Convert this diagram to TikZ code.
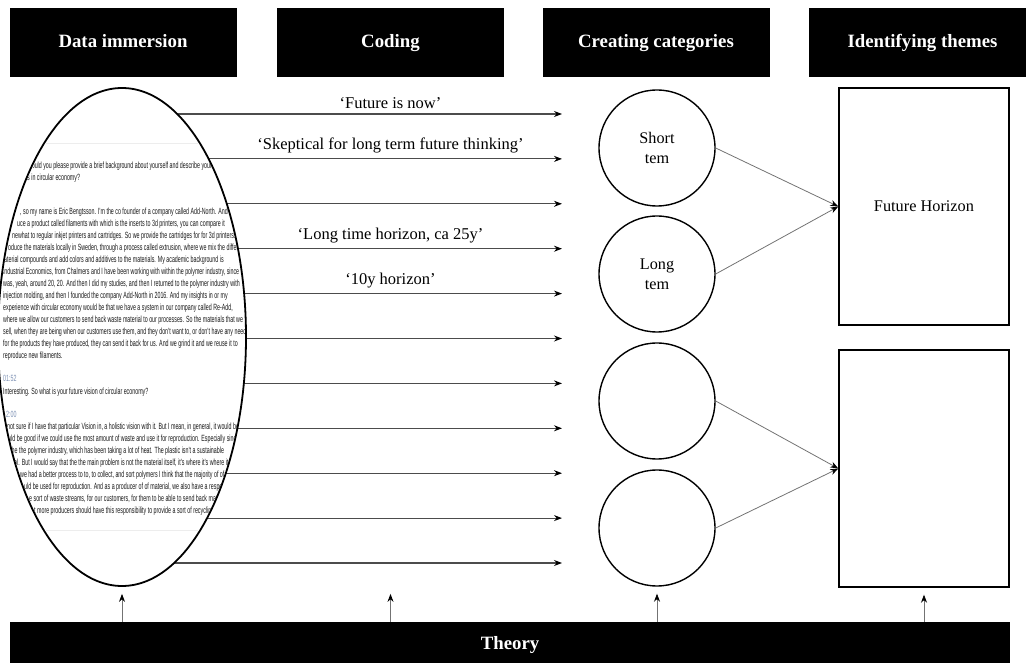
\documentclass[tikz,border=0pt]{standalone}
\usepackage{fontspec}
\setmainfont{Liberation Serif}
\newfontfamily\transcriptfont{Liberation Sans}[FakeStretch=0.59]
\usetikzlibrary{positioning,shapes.geometric,arrows.meta}
\pgfdeclarelayer{background}
\pgfsetlayers{background,main}
\definecolor{stampblue}{RGB}{125,145,180}

\tikzset{
	stage/.style={fill=black,text=white,minimum width=227,minimum height=69,inner sep=0,text height=0.95em,text depth=0em,font=\fontsize{18.8}{22}\selectfont\bfseries},
	category/.style={circle,draw,line width=1.4,minimum size=116,inner sep=0,align=center,font=\fontsize{16.2}{20}\selectfont},
	theme/.style={draw,line width=1.4,minimum width=170,minimum height=237,inner sep=0,font=\fontsize{16.3}{20}\selectfont},
	code/.style={draw=black!70,line width=1.1},
	link/.style={draw=black!55,line width=0.8},
	quote/.style={above=2pt,font=\fontsize{16.5}{20}\selectfont},
	transcript/.style={anchor=base west,inner sep=0,text=black!90,font=\transcriptfont\fontsize{9}{12}\selectfont},
}

\begin{document}
\begin{tikzpicture}[x=1pt,y=1pt,>={Stealth[length=8pt,width=6pt,color=black]}]
	\useasboundingbox (0,0) rectangle (1026,662);
	% the four stages
	\node[stage] (data) at (123,619.5) {Data immersion};
	\node[stage] (coding) at (390.5,619.5) {Coding};
	\node[stage] (cat) at (656,619.5) {Creating categories};
	\node[stage] (theme) at (922.5,619.5) {Identifying themes};
	% interview in the ellipse
	\node[ellipse,draw,fill=white,line width=1.8,minimum width=248,minimum height=498,inner sep=0] (immersion) at (122,325) {};
	\begin{scope}
		\clip (immersion.center) ellipse (123 and 248);
		\draw[black!7] (0,519) -- (250,519);
		\draw[black!7] (0,132) -- (250,132);
		\foreach \y/\x/\t in {
			493.5/26/{, could you please provide a brief background about yourself and describe your},
			481.5/27/{s in circular economy?},
			447.5/20/{, so my name is Eric Bengtsson. I’m the co founder of a company called Add-North. And we},
			435.5/17/{uce a product called filaments with which is the inserts to 3d printers, you can compare it},
			423.5/12/{newhat to regular inkjet printers and cartridges. So we provide the cartridges for for 3d printers. We},
			411.5/8/{oduce the materials locally in Sweden, through a process called extrusion, where we mix the different},
			399.5/4/{aterial compounds and add colors and additives to the materials. My academic background is},
			387.5/3/{industrial Economics, from Chalmers and I have been working with within the polymer industry, since I},
			375.5/3/{was, yeah, around 20, 20. And then I did my studies, and then I returned to the polymer industry with},
			363.5/3/{injection molding, and then I founded the company Add-North in 2016. And my insights in or my},
			351.5/3/{experience with circular economy would be that we have a system in our company called Re-Add,},
			339.5/3/{where we allow our customers to send back waste material to our processes. So the materials that we},
			327.5/3/{sell, when they are being when our customers use them, and they don’t want to, or don’t have any need},
			315.5/3/{for the products they have produced, they can send it back for us. And we grind it and we reuse it to},
			303.5/3/{reproduce new filaments.},
			267.5/3/{Interesting. So what is your future vision of circular economy?},
			232.5/7/{not sure if I have that particular Vision in, a holistic vision with it. But I mean, in general, it would be},
			220.5/8/{uld be good if we could use the most amount of waste and use it for reproduction. Especially since},
			208.5/10/{the the polymer industry, which has been taking a lot of heat. The plastic isn’t a sustainable},
			196.5/14/{al. But I would say that the the main problem is not the material itself, it’s where it’s where it},
			184.5/20/{we had a better process to to, to collect, and sort polymers I think that the majority of of},
			172.5/24/{uld be used for reproduction. And as a producer of of material, we also have a responsibility},
			160.5/29/{e sort of waste streams, for our customers, for them to be able to send back material},
			148.5/34/{t more producers should have this responsibility to provide a sort of recycling}}
			\node[transcript] at (\x,\y) {\t};
		\node[transcript,text=stampblue] at (3,280.5) {01:52};
		\node[transcript,text=stampblue] at (6,244.5) {2:00};
	\end{scope}
	% codes
	\foreach \i in {0,...,10}
		\coordinate (c\i) at (562,{548-44.9*\i});
	\begin{pgfonlayer}{background}
		\foreach \i in {0,...,10}
			\draw[code,->] (immersion.center |- c\i) -- (c\i);
	\end{pgfonlayer}
	\node[quote] at (coding |- c0) {‘Future is now’};
	\node[quote] at (coding |- c1) {‘Skeptical for long term future thinking’};
	\node[quote] at (coding |- c3) {‘Long time horizon, ca 25y’};
	\node[quote] at (coding |- c4) {‘10y horizon’};
	% categories and themes
	\node[category] (short) at (657,514) {Short\\tem};
	\node[category] (long) at (657,388) {Long\\tem};
	\node[category] (cat3) at (657,261) {};
	\node[category] (cat4) at (657,134) {};
	\node[theme] (horizon) at (924,455.5) {Future Horizon};
	\node[theme] (theme2) at (924,193.5) {};
	\draw[link,->] (short.east) -- (horizon.west);
	\draw[link,->] (long.east) -- (horizon.west);
	\draw[link,->] (cat3.east) -- (theme2.west);
	\draw[link,->] (cat4.east) -- (theme2.west);
	% theory
	\node[stage,minimum width=1000,minimum height=46] (theory) at (510,17) {Theory};
	\draw[link,->,shorten >=7pt] (theory.north -| immersion.south) -- (immersion.south);
	\draw[link,->,shorten >=7pt] (theory.north -| coding) -- (coding |- immersion.south);
	\draw[link,->,shorten >=7pt] (theory.north -| cat4) -- (cat4.south);
	\draw[link,->,shorten >=7pt] (theory.north -| theme2) -- (theme2.south);
\end{tikzpicture}
\end{document}
